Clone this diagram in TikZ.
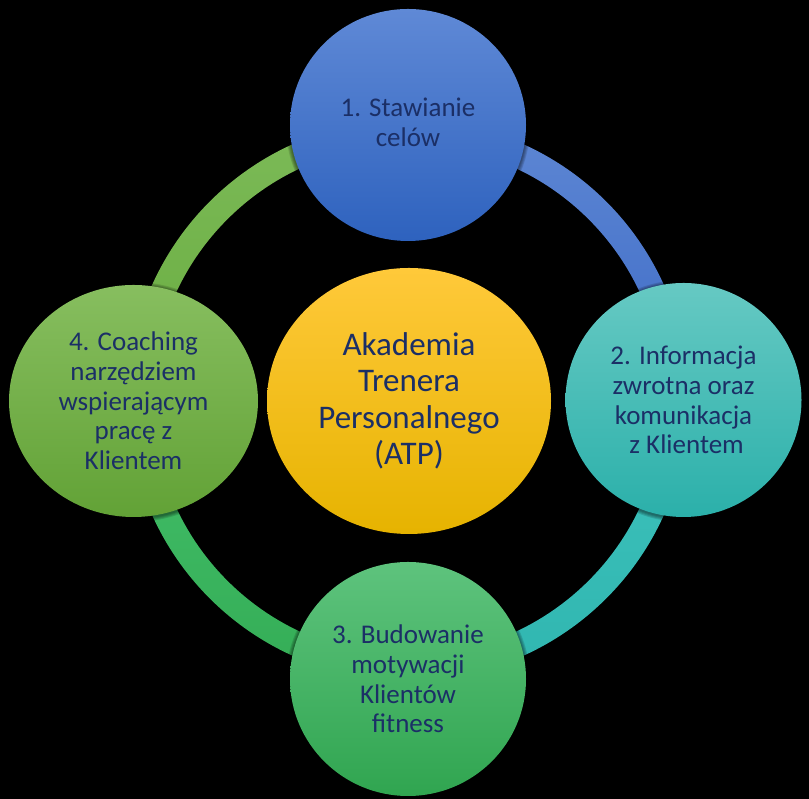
\documentclass[tikz,border=0pt]{standalone}
\usepackage{fontspec}
\setmainfont{Carlito}
\usetikzlibrary{shapes.geometric}
\definecolor{txt}{HTML}{1B2F66}
\definecolor{blueT}{HTML}{5F89D6}
\definecolor{blueM}{HTML}{4472C4}
\definecolor{blueB}{HTML}{2E62BE}
\definecolor{tealT}{HTML}{66C9C3}
\definecolor{tealM}{HTML}{44BFB9}
\definecolor{tealB}{HTML}{2BB0AA}
\definecolor{grnT}{HTML}{5EC37D}
\definecolor{grnM}{HTML}{46BB66}
\definecolor{grnB}{HTML}{30A550}
\definecolor{limT}{HTML}{87BE5F}
\definecolor{limM}{HTML}{72B045}
\definecolor{limB}{HTML}{62A236}
\definecolor{ylwT}{HTML}{FFC93A}
\definecolor{ylwM}{HTML}{FFC000}
\definecolor{ylwB}{HTML}{E6B300}
\definecolor{rBt}{HTML}{5E87D4}
\definecolor{rBb}{HTML}{3D6BC6}
\definecolor{rTt}{HTML}{3EC2BC}
\definecolor{rTb}{HTML}{30B6B0}
\definecolor{rGt}{HTML}{43BF6A}
\definecolor{rGb}{HTML}{34AD56}
\definecolor{rLt}{HTML}{7CBA58}
\definecolor{rLb}{HTML}{69AD3F}
\begin{document}
\begin{tikzpicture}[x=1pt,y=1pt,
  bub/.style={ellipse, inner sep=0pt, align=center, text=txt,
    font=\fontsize{27}{29.7}\selectfont},
  ringseg/.style={draw=none},
  softshadow/.style={fill=black, fill opacity=0.13, draw=none, ellipse, inner sep=0pt}
]
\fill[black] (0,0) rectangle (809,799);
\useasboundingbox (0,0) rectangle (809,799);
\coordinate (rc) at (408,399);
\def\Ri{255.5}
\def\Ro{280.5}
% ring segments
\shade[ringseg, top color=rBt, bottom color=rBb]
  ([shift={(90:\Ro)}]rc) arc[start angle=90, end angle=0, radius=\Ro]
  -- ([shift={(0:\Ri)}]rc) arc[start angle=0, end angle=90, radius=\Ri] -- cycle;
\shade[ringseg, top color=rTt, bottom color=rTb]
  ([shift={(0:\Ro)}]rc) arc[start angle=0, end angle=-90, radius=\Ro]
  -- ([shift={(-90:\Ri)}]rc) arc[start angle=-90, end angle=0, radius=\Ri] -- cycle;
\shade[ringseg, top color=rGt, bottom color=rGb]
  ([shift={(-90:\Ro)}]rc) arc[start angle=-90, end angle=-180, radius=\Ro]
  -- ([shift={(180:\Ri)}]rc) arc[start angle=180, end angle=270, radius=\Ri] -- cycle;
\shade[ringseg, top color=rLt, bottom color=rLb]
  ([shift={(180:\Ro)}]rc) arc[start angle=180, end angle=90, radius=\Ro]
  -- ([shift={(90:\Ri)}]rc) arc[start angle=90, end angle=180, radius=\Ri] -- cycle;
% soft shadows of the circles on the ring
\foreach \cx/\cy/\w/\h in {408/674/236/232, 683.5/399/236/234, 408/120/236/234, 133.5/398/249/232}{
  \foreach \d in {2,4,6,8}{
    \node[softshadow, minimum width=\w pt+\d pt, minimum height=\h pt+\d pt] at (\cx,\cy-1) {};
  }
}
% circles
\node[bub, minimum width=236pt, minimum height=232pt,
  top color=blueT, middle color=blueM, bottom color=blueB] (s1) at (408,674)
  {\raisebox{6pt}{1. Stawianie}\\\raisebox{6pt}{celów}};
\node[bub, minimum width=236pt, minimum height=234pt,
  top color=tealT, middle color=tealM, bottom color=tealB] (s2) at (683.5,399)
  {2. Informacja\\zwrotna oraz\\komunikacja\\\hspace*{0.23em}z Klientem};
\node[bub, minimum width=236pt, minimum height=234pt,
  top color=grnT, middle color=grnM, bottom color=grnB] (s3) at (408,120)
  {3. Budowanie\\motywacji\\Klientów\\fitness};
\node[bub, minimum width=249pt, minimum height=232pt,
  top color=limT, middle color=limM, bottom color=limB] (s4) at (133.5,398)
  {4. Coaching\\narzędziem\\wspierającym\\pracę z\\Klientem};
\node[bub, minimum width=284pt, minimum height=266pt,
  font=\fontsize{33}{36.5}\selectfont,
  top color=ylwT, middle color=ylwM, bottom color=ylwB] (c) at (409,398)
  {Akademia\\Trenera\\Personalnego\\(ATP)};
\end{tikzpicture}
\end{document}
